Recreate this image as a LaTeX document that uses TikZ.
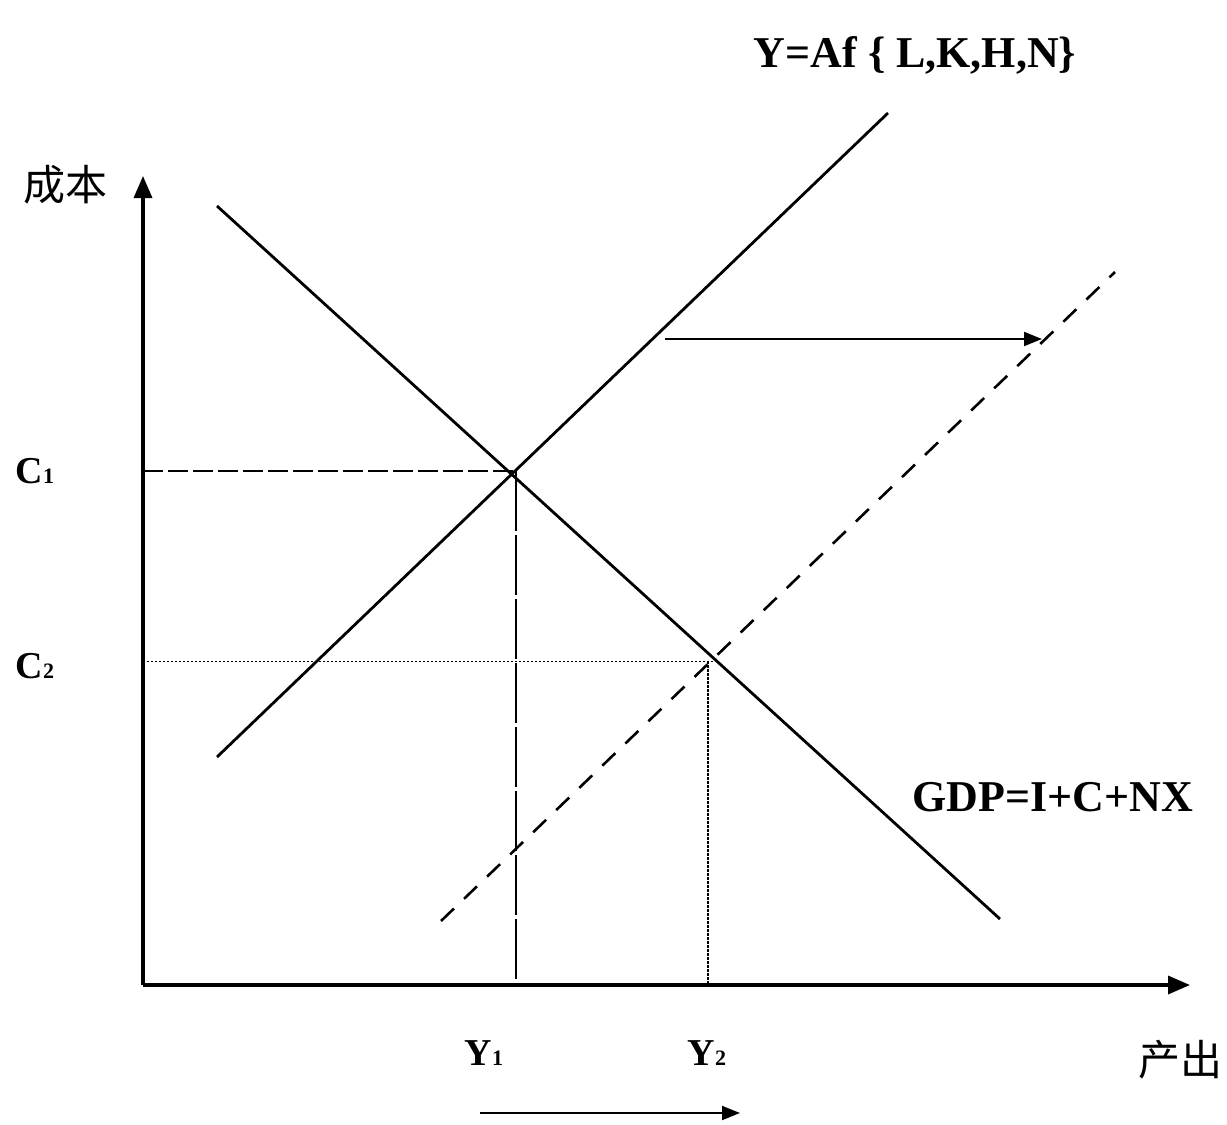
\documentclass[tikz,border=0pt]{standalone}
\usepackage{fontspec}
\setmainfont{Liberation Serif}
\newfontfamily\cjk{Noto Sans CJK SC}
\usetikzlibrary{arrows.meta,intersections}
\newcommand\mysub[1]{{\fontsize{11}{12}\selectfont #1}}
\begin{document}
\begin{tikzpicture}[x=0.5pt,y=-0.5pt,
  curve/.style={line width=1.4pt,black},
  axisline/.style={line width=1.7pt,-{Triangle[length=11pt,width=9pt]}},
  shiftarrow/.style={line width=1pt,-{Triangle[length=9pt,width=7pt]}},
  guide/.style={line width=1pt,dash pattern=on 10pt off 2.5pt},
  vguide/.style={line width=1.1pt,dash pattern=on 30pt off 2pt},
  dotguide/.style={line width=0.8pt,dash pattern=on 1.2pt off 0.8pt},
  lbl/.style={font=\bfseries\fontsize{22}{26}\selectfont,inner sep=0pt},
  sublbl/.style={font=\bfseries\fontsize{19}{22}\selectfont,inner sep=0pt},
  cjklbl/.style={font=\cjk\fontsize{21}{24}\selectfont,inner sep=0pt}]
\useasboundingbox (0,0) rectangle (1227,1125);
\fill[white] (0,0) rectangle (1227,1125);

% coordinates
\coordinate (o) at (143,985);
\coordinate (ytip) at (143,176);
\coordinate (xtip) at (1190,985);
\coordinate (s1) at (217,757);
\coordinate (s2) at (888,113);
\coordinate (d1) at (217,206);
\coordinate (d2) at (1000,919);
\coordinate (s3) at (441,921);
\coordinate (s4) at (1115,272);
\coordinate (a1) at (665,339);
\coordinate (a2) at (1042,339);
\coordinate (b1) at (480,1113);
\coordinate (b2) at (740,1113);
\coordinate (E1) at (intersection of s1--s2 and d1--d2);
\coordinate (E2) at (intersection of s3--s4 and d1--d2);
\coordinate (G1) at ([xshift=2pt,yshift=1.5pt]E1);
\coordinate (G2) at ([xshift=-3pt,yshift=-1.5pt]E2);

% guides
\draw[guide] (o |- G1) -- (G1);
\draw[vguide] (G1) -- (G1 |- o);
\draw[dotguide] (o |- G2) -- (E2 |- G2);
\draw[dotguide] (G2) -- (G2 |- o);

% curves
\draw[curve] (s1) -- (s2);
\draw[curve] (d1) -- (d2);
\draw[curve,line width=1.3pt,dash pattern=on 9pt off 7pt] (s3) -- (s4);

% axes
\draw[axisline] (o) -- (ytip);
\draw[axisline] (o) -- (xtip);

% shift arrows
\draw[shiftarrow] (a1) -- (a2);
\draw[shiftarrow] (b1) -- (b2);

% labels
\node[lbl] (supply) at (915,55) {Y=Af \{ L,K,H,N\}};
\node[lbl] (demand) at (1053,797) {GDP=I+C+NX};
\node[sublbl] (c1) at (35,471) {C\mysub{1}};
\node[sublbl] (c2) at (35,666) {C\mysub{2}};
\node[sublbl] (y1) at (484,1053) {Y\mysub{1}};
\node[sublbl] (y2) at (707,1053) {Y\mysub{2}};
\node[cjklbl] (cost) at (66,185) {成本};
\node[cjklbl] (output) at (1180,1060) {产出};
\end{tikzpicture}
\end{document}
